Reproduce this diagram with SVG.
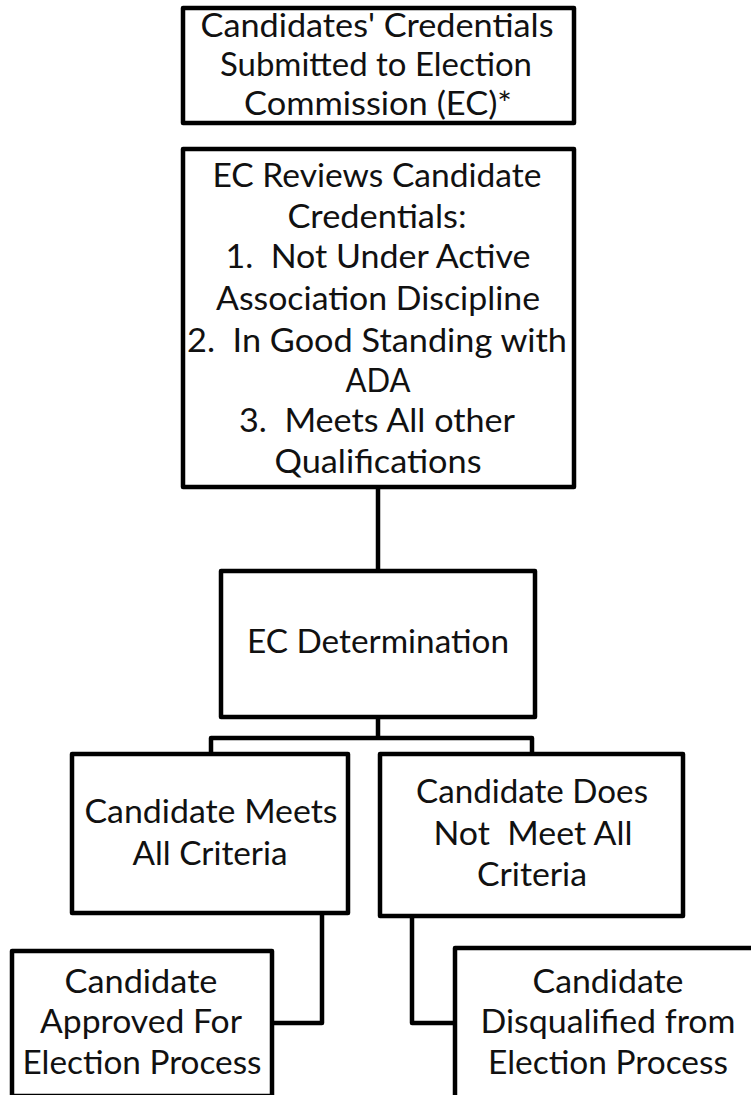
<svg xmlns="http://www.w3.org/2000/svg" width="751" height="1095" viewBox="0 0 751 1095">
<style>
.box{fill:#fff;stroke:#000;stroke-width:4.5;stroke-linejoin:round}
.con{fill:none;stroke:#000;stroke-width:4.5;stroke-linejoin:round}
text{font-family:Lato,"Open Sans","Liberation Sans",sans-serif;font-size:33px;fill:#111;text-anchor:middle;white-space:pre}
</style>
<rect width="751" height="1095" fill="#fff"/>
<g id="connectors">
<path class="con" d="M378 487V571"/>
<path class="con" d="M378 717V738M211 754V738H532V754"/>
<path class="con" d="M322 913V1023H272"/>
<path class="con" d="M412 916V1023H455"/>
</g>
<g id="n1">
<rect class="box" x="183" y="8" width="391" height="115"/>
<text x="377" y="37" textLength="353" lengthAdjust="spacingAndGlyphs">Candidates' Credentials</text>
<text x="376" y="76" textLength="312" lengthAdjust="spacingAndGlyphs">Submitted to Election</text>
<text x="378" y="115" textLength="268" lengthAdjust="spacingAndGlyphs">Commission (EC)*</text>
</g>
<g id="n2">
<rect class="box" x="183" y="149" width="391" height="338"/>
<text x="377" y="187" textLength="329" lengthAdjust="spacingAndGlyphs">EC Reviews Candidate</text>
<text x="377" y="228" textLength="179" lengthAdjust="spacingAndGlyphs">Credentials:</text>
<text x="378" y="268" textLength="305" lengthAdjust="spacingAndGlyphs" xml:space="preserve">1.  Not Under Active</text>
<text x="378" y="310" textLength="324" lengthAdjust="spacingAndGlyphs">Association Discipline</text>
<text x="377" y="352" textLength="380" lengthAdjust="spacingAndGlyphs" xml:space="preserve">2.  In Good Standing with</text>
<text x="378" y="392" textLength="65" lengthAdjust="spacingAndGlyphs">ADA</text>
<text x="377" y="432" textLength="276" lengthAdjust="spacingAndGlyphs" xml:space="preserve">3.  Meets All other</text>
<text x="378" y="473" textLength="207" lengthAdjust="spacingAndGlyphs">Qualifications</text>
</g>
<g id="n3">
<rect class="box" x="221" y="571" width="314" height="146"/>
<text x="378" y="653" textLength="262" lengthAdjust="spacingAndGlyphs">EC Determination</text>
</g>
<g id="n4">
<rect class="box" x="72" y="754" width="276" height="159"/>
<text x="211" y="823" textLength="253" lengthAdjust="spacingAndGlyphs">Candidate Meets</text>
<text x="210" y="865" textLength="155" lengthAdjust="spacingAndGlyphs">All Criteria</text>
</g>
<g id="n5">
<rect class="box" x="380" y="754" width="303" height="162"/>
<text x="532" y="803" textLength="232" lengthAdjust="spacingAndGlyphs">Candidate Does</text>
<text x="533" y="845" textLength="199" lengthAdjust="spacingAndGlyphs" xml:space="preserve">Not  Meet All</text>
<text x="532" y="886" textLength="110" lengthAdjust="spacingAndGlyphs">Criteria</text>
</g>
<g id="n6">
<rect class="box" x="12" y="951" width="260" height="145"/>
<text x="141" y="993" textLength="153" lengthAdjust="spacingAndGlyphs">Candidate</text>
<text x="141" y="1033" textLength="202" lengthAdjust="spacingAndGlyphs">Approved For</text>
<text x="142" y="1074" textLength="239" lengthAdjust="spacingAndGlyphs">Election Process</text>
</g>
<g id="n7">
<rect class="box" x="455" y="948" width="307" height="152"/>
<text x="608" y="993" textLength="151" lengthAdjust="spacingAndGlyphs">Candidate</text>
<text x="608" y="1033" textLength="255" lengthAdjust="spacingAndGlyphs">Disqualified from</text>
<text x="608" y="1074" textLength="240" lengthAdjust="spacingAndGlyphs">Election Process</text>
</g>
</svg>
